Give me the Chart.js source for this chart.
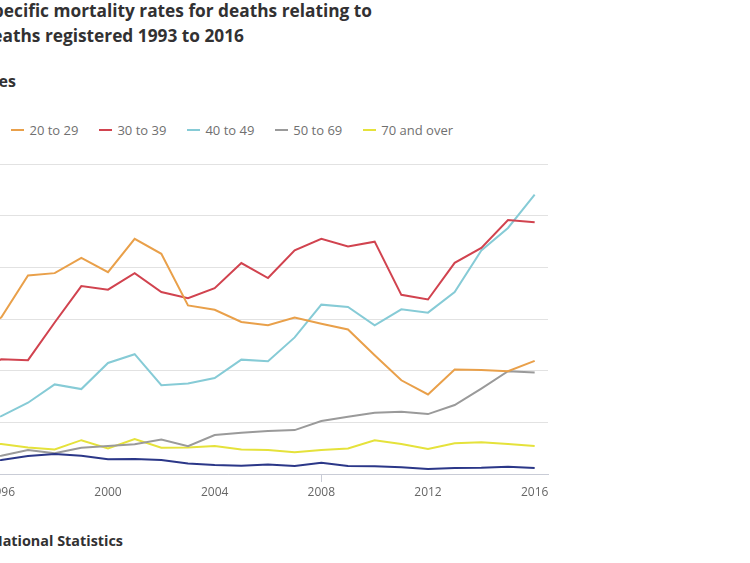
<!DOCTYPE html>
<html>
<head>
<meta charset="utf-8">
<script src="https://cdn.jsdelivr.net/npm/chart.js@4/dist/chart.umd.min.js"></script>
<style>
  html, body { margin: 0; padding: 0; background: #fff; }
  body { width: 750px; height: 563px; position: relative; overflow: hidden;
         font-family: "Open Sans", sans-serif; color: #323132; }
  /* texts are cut at the left edge, so they are anchored by their right end */
  .cut { position: absolute; white-space: nowrap; text-align: right; }
  .title { font-size: 17.3px; font-weight: bold; line-height: 25px; }
  #title1 { top: -2px; right: calc(100% - 372px); }
  #title2 { top: 23px; right: calc(100% - 244px); }
  #subtitle { top: 70px; right: calc(100% - 16px); font-size: 16px; font-weight: bold; }
  #legend { top: 121px; right: calc(100% - 453px); display: flex; font-size: 13px; color: #707070; }
  #legend .item { display: flex; align-items: center; margin-left: 21px; }
  #legend .mark { width: 13px; height: 2px; margin-right: 5px; }
  #source { top: 531px; right: calc(100% - 123px); font-size: 14.4px; font-weight: bold; }
  #chartBox { position: absolute; left: -132px; top: 154px; width: 690px; height: 350px; }
</style>
</head>
<body>
<div id="title1" class="cut title">Figure 5: Age-specific mortality rates for deaths relating to</div>
<div id="title2" class="cut title">drug misuse, deaths registered 1993 to 2016</div>
<div id="subtitle" class="cut">England and Wales</div>
<div id="legend" class="cut"></div>
<div id="chartBox"><canvas id="chart"></canvas></div>
<div id="source" class="cut">Source: Office for National Statistics</div>

<script>
// Age-specific mortality rates, deaths per million population.
var years = ['1993', '1994', '1995', '1996', '1997', '1998', '1999', '2000', '2001', '2002', '2003', '2004',
             '2005', '2006', '2007', '2008', '2009', '2010', '2011', '2012', '2013', '2014', '2015', '2016'];

var under20   = [4.5, 5.0, 5.3, 5.4, 7.0, 7.7, 7.1, 5.7, 5.8, 5.4, 4.1, 3.5, 3.2, 3.7, 3.1, 4.4, 3.1, 3.0, 2.6, 1.9, 2.3, 2.4, 2.8, 2.3];
var age20to29 = [38, 46, 54, 60.7, 76.9, 77.8, 83.7, 78.2, 91.1, 85.3, 65.3, 63.6, 58.9, 57.6, 60.6, 58.2, 56.0, 46.0, 36.3, 30.8, 40.5, 40.3, 39.8, 43.8];
var age30to39 = [32, 36, 40, 44.4, 44.1, 58.7, 72.8, 71.4, 77.8, 70.5, 68.1, 72.0, 81.7, 75.9, 86.6, 91.1, 88.1, 90.0, 69.4, 67.6, 81.8, 87.6, 98.4, 97.5];
var age40to49 = [14, 17, 20, 22.4, 27.6, 34.7, 32.9, 43.0, 46.4, 34.4, 35.1, 37.2, 44.3, 43.7, 52.9, 65.6, 64.7, 57.6, 63.8, 62.5, 70.5, 86.6, 95.3, 108.2];
var age50to69 = [6.0, 6.3, 6.8, 7.1, 9.3, 8.0, 10.2, 10.8, 11.5, 13.4, 10.8, 15.1, 16.0, 16.7, 17.0, 20.5, 22.2, 23.7, 24.1, 23.2, 26.7, 33.1, 39.8, 39.3];
var age70plus = [12.5, 12.0, 11.8, 11.6, 10.3, 9.5, 13.1, 9.9, 13.5, 10.2, 10.3, 10.8, 9.5, 9.3, 8.4, 9.3, 9.9, 13.1, 11.6, 9.7, 11.9, 12.3, 11.6, 10.8];

var seriesNames  = ['Under 20', '20 to 29', '30 to 39', '40 to 49', '50 to 69', '70 and over'];
var seriesValues = [under20, age20to29, age30to39, age40to49, age50to69, age70plus];
var seriesColors = ['#2b3788', '#e9a04a', '#d1434f', '#86cbd6', '#9a9a9a', '#e5e23b'];

var yTicks = [0, 20, 40, 60, 80, 100, 120];

// Build the legend from the series.
var legendBox = document.getElementById('legend');
seriesNames.forEach(function(name, i){
  var item = document.createElement('div');
  item.className = 'item';
  item.innerHTML = '<span class="mark" style="background:' + seriesColors[i] + '"></span>' + name;
  legendBox.appendChild(item);
});

// Only every fourth year gets a label and a tick mark.
function isLabelled(index){
  return (parseInt(years[index]) - 1996) % 4 === 0;
}

var chart = new Chart(document.getElementById('chart'), {
  type: 'line',
  data: {
    labels: years,
    datasets: seriesNames.map(function(name, i){
      return {
        label: name,
        data: seriesValues[i],
        borderColor: seriesColors[i],
        backgroundColor: seriesColors[i],
        borderWidth: 2,
        pointRadius: 0,
        tension: 0
      };
    })
  },
  options: {
    responsive: true,
    maintainAspectRatio: false,
    animation: false,
    layout: { padding: { top: 10, right: 10, left: 0, bottom: 0 } },
    plugins: { legend: { display: false }, tooltip: { enabled: false } },
    scales: {
      x: {
        offset: true,
        afterFit: function(scale){ scale.height = 30; },
        grid: {
          drawOnChartArea: false,
          tickLength: 8,
          color: function(ctx){ return isLabelled(ctx.index) ? '#c9ccd6' : 'rgba(0,0,0,0)'; }
        },
        border: { color: '#c9ccd6' },
        ticks: {
          autoSkip: false,
          maxRotation: 0,
          padding: 3,
          color: '#666',
          font: { family: 'Open Sans', size: 12 },
          callback: function(value, index){ return isLabelled(index) ? years[index] : null; }
        }
      },
      y: {
        min: yTicks[0],
        max: yTicks[yTicks.length - 1],
        afterFit: function(scale){ scale.width = 40; },
        afterBuildTicks: function(scale){
          scale.ticks = yTicks.map(function(v){ return { value: v }; });
        },
        grid: { color: '#e2e2e2', drawTicks: false },
        border: { display: false },
        ticks: { color: '#666', font: { family: 'Open Sans', size: 12 } }
      }
    }
  }
});
</script>
</body>
</html>
